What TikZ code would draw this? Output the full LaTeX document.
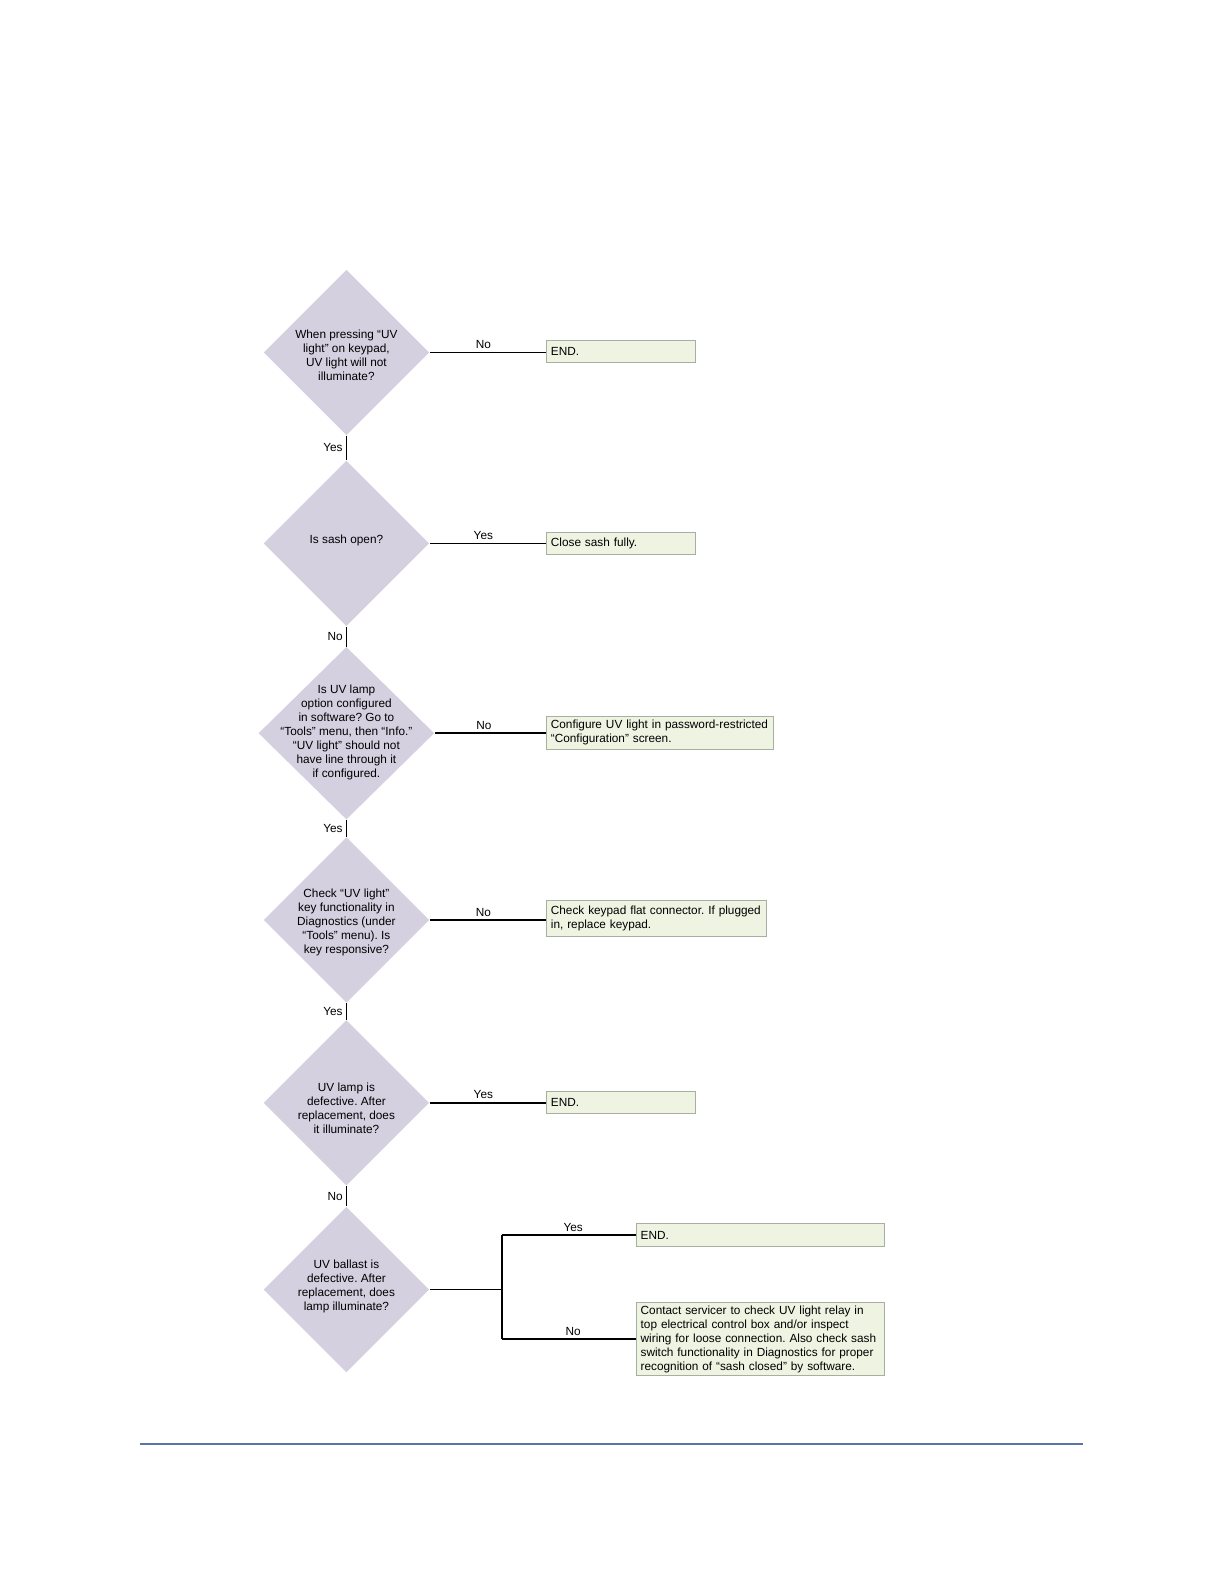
\documentclass[tikz,border=0pt]{standalone}
\usepackage{fontspec}
\setmainfont{Liberation Sans}
\usetikzlibrary{shapes.geometric}
\definecolor{dfill}{HTML}{D4D0E0}
\definecolor{bfill}{HTML}{EEF3E2}
\definecolor{bdraw}{HTML}{A9AEA2}
\definecolor{rulecol}{HTML}{5A74A8}
\newcommand{\dtxt}[2][0pt]{\makebox[0pt]{\raisebox{-#1}[0pt][0pt]{\parbox[c]{90pt}{\centering #2}}}}
\begin{document}
\begin{tikzpicture}[x=0.5pt,y=-0.5pt,
  every node/.style={font=\fontsize{5.9}{7}\selectfont\frenchspacing},
  decision/.style={diamond,fill=dfill,inner sep=0pt,minimum width=82.8pt,minimum height=82.8pt},
  action/.style={rectangle,draw=bdraw,line width=0.5pt,fill=bfill,anchor=west,align=left,
    inner xsep=2pt,inner ysep=1pt,minimum height=11.1pt},
  lab/.style={inner sep=1.5pt},
  link/.style={line width=0.8pt}]
\useasboundingbox (0,0) rectangle (1224,1584);
% questions
\node[decision] (d1) at (346.4,352.5) {\dtxt[3pt]{When pressing “UV\\ light” on keypad,\\ UV light will not\\ illuminate?}};
\node[decision] (d2) at (346.4,543.3) {\dtxt{Is sash open?}};
\node[decision,minimum width=87.9pt,minimum height=86.3pt] (d3) at (346.4,733.2) {\dtxt[1pt]{Is UV lamp\\ option configured\\ in software? Go to\\ “Tools” menu, then “Info.”\\ “UV light” should not\\ have line through it\\ if configured.}};
\node[decision] (d4) at (346.4,920) {\dtxt[2.7pt]{Check “UV light”\\ key functionality in\\ Diagnostics (under\\ “Tools” menu). Is\\ key responsive?}};
\node[decision] (d5) at (346.4,1102.8) {\dtxt[4.2pt]{UV lamp is\\ defective. After\\ replacement, does\\ it illuminate?}};
\node[decision] (d6) at (346.4,1289.6) {\dtxt{UV ballast is\\ defective. After\\ replacement, does\\ lamp illuminate?}};
% answers
\node[action,text width=70.2pt] (b1) at (546.4,351.5) {END.};
\node[action,text width=70.2pt] (b2) at (546.4,543.3) {Close sash fully.};
\node[action,text width=109.5pt,minimum height=16.7pt] (b3) at (546.4,732.7) {Configure UV light in password-restricted\\ “Configuration” screen.};
\node[action,text width=106pt,minimum height=17.7pt] (b4) at (546.4,918.5) {Check keypad flat connector. If plugged\\ in, replace keypad.};
\node[action,text width=70.2pt] (b5) at (546.4,1102.8) {END.};
\node[action,text width=120pt] (b6a) at (636.2,1235) {END.};
\node[action,text width=120pt,minimum height=36.4pt] (b6b) at (636.2,1339.2) {Contact servicer to check UV light relay in\\ top electrical control box and/or inspect\\ wiring for loose connection. Also check sash\\ switch functionality in Diagnostics for proper\\ recognition of “sash closed” by software.};
\coordinate (j) at (502,1289.6);
% flow down
\draw[link] (d1.south) -- node[lab,left] {Yes} (d2.north);
\draw[link] (d2.south) -- node[lab,left] {No} (d3.north);
\draw[link] (d3.south) -- node[lab,left] {Yes} (d4.north);
\draw[link] (d4.south) -- node[lab,left] {Yes} (d5.north);
\draw[link] (d5.south) -- node[lab,left] {No} (d6.north);
% branches
\draw[link] (d1.east) -- node[lab,above,pos=0.46] {No} (d1.east -| b1.west);
\draw[link] (d2.east) -- node[lab,above,pos=0.46] {Yes} (d2.east -| b2.west);
\draw[link] (d3.east) -- node[lab,above,pos=0.44] {No} (d3.east -| b3.west);
\draw[link] (d4.east) -- node[lab,above,pos=0.46] {No} (d4.east -| b4.west);
\draw[link] (d5.east) -- node[lab,above,pos=0.46] {Yes} (d5.east -| b5.west);
\draw[link] (d6.east) -- (j);
\draw[link] (j |- b6a.west) -- (j |- b6b.west);
\draw[link] (j |- b6a.west) -- node[lab,above,pos=0.53] {Yes} (b6a.west);
\draw[link] (j |- b6b.west) -- node[lab,above,pos=0.53] {No} (b6b.west);
% page rule
\draw[rulecol,line width=0.6pt] (140.4,1444) -- (1082.6,1444);
\end{tikzpicture}
\end{document}
